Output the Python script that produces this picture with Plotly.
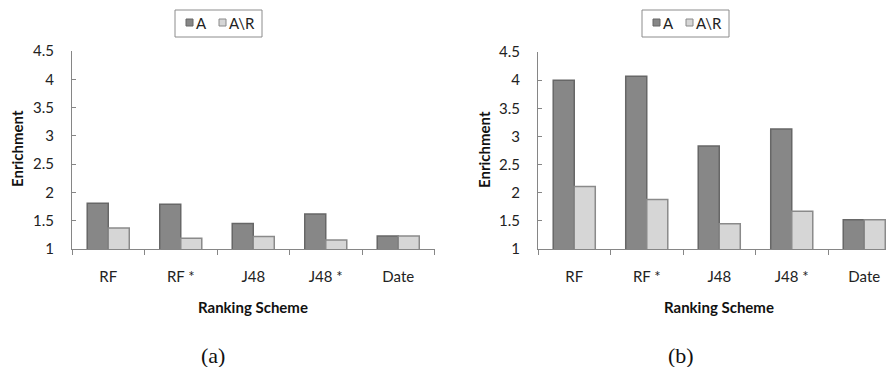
import plotly.graph_objects as go

categories = ["RF", "RF *", "J48", "J48 *", "Date"]
a_left = [1.81, 1.79, 1.45, 1.62, 1.23]
ar_left = [1.37, 1.19, 1.22, 1.16, 1.23]
a_right = [4.00, 4.07, 2.83, 3.13, 1.52]
ar_right = [2.11, 1.88, 1.45, 1.67, 1.52]
y_ticks = [1, 1.5, 2, 2.5, 3, 3.5, 4, 4.5]
y_tick_labels = ["1", "1.5", "2", "2.5", "3", "3.5", "4", "4.5"]
series_names = ["A", "A\\R"]

# The page body has an 8px margin, so the figure is sized to fit the window exactly
OFF = 8
W, H = 894 - OFF, 367 - OFF
FONT = "Lato"
COL_A = "#878787"
COL_A_LINE = "#676767"
COL_AR = "#d6d6d6"
COL_AR_LINE = "#8a8a8a"
AXIS_COL = "#868686"

fig = go.Figure()

def add_pair(a, ar, xa, ya):
    fig.add_trace(go.Bar(x=categories, y=a, name=series_names[0], xaxis=xa, yaxis=ya,
                         marker=dict(color=COL_A, line=dict(color=COL_A_LINE, width=1.5)),
                         showlegend=False))
    fig.add_trace(go.Bar(x=categories, y=ar, name=series_names[1], xaxis=xa, yaxis=ya,
                         marker=dict(color=COL_AR, line=dict(color=COL_AR_LINE, width=1.5)),
                         showlegend=False))

add_pair(a_left, ar_left, "x", "y")
add_pair(a_right, ar_right, "x2", "y2")

def px_x(p):
    return (p - OFF) / W

def px_y(p):
    return 1 - (p - OFF) / H

cat_w = 72.5
xaxis_common = dict(type="category", tickson="boundaries", ticks="outside", ticklen=5,
                    tickcolor=AXIS_COL, showline=True, linecolor=AXIS_COL, linewidth=1,
                    showgrid=False, zeroline=False, automargin=False,
                    tickfont=dict(family=FONT, size=15, color="#222"),
                    ticklabelstandoff=14)
yaxis_common = dict(range=[1, 4.5], tickvals=y_ticks, ticktext=y_tick_labels,
                    ticks="inside", ticklen=4, tickcolor=AXIS_COL,
                    showline=True, linecolor=AXIS_COL, linewidth=1, showgrid=False, zeroline=False,
                    automargin=False,
                    tickfont=dict(family=FONT, size=15, color="#222"),
                    ticklabelstandoff=14)

left_x0 = 72
right_x0 = 538
right_end = (894 - right_x0) / cat_w - 0.5

shapes = []
annotations = []

def add_legend(x0, y0):
    shapes.append(dict(type="rect", xref="paper", yref="paper",
                       x0=px_x(x0), x1=px_x(x0 + 87), y0=px_y(y0), y1=px_y(y0 + 27),
                       line=dict(color="#8c8c8c", width=1), fillcolor="white"))
    items = [(x0 + 11, series_names[0], COL_A, COL_A_LINE),
             (x0 + 44, series_names[1], COL_AR, COL_AR_LINE)]
    for sx, name, fc, lc in items:
        shapes.append(dict(type="rect", xref="paper", yref="paper",
                           x0=px_x(sx), x1=px_x(sx + 7), y0=px_y(y0 + 9), y1=px_y(y0 + 16),
                           line=dict(color=lc, width=1), fillcolor=fc))
        annotations.append(dict(text=name, x=px_x(sx + 8), y=px_y(y0 + 13), xref="paper", yref="paper",
                                showarrow=False, xanchor="left", yanchor="middle",
                                font=dict(family=FONT, size=15, color="#222")))

add_legend(175, 10)
add_legend(642, 10)

def add_titles(xc_x, xc_y, yt_x, yt_y, cap_x, cap):
    annotations.append(dict(text="<b>Ranking Scheme</b>", x=px_x(xc_x), y=px_y(xc_y), xref="paper",
                            yref="paper", showarrow=False, xanchor="center", yanchor="middle",
                            font=dict(family=FONT, size=15, color="#111")))
    annotations.append(dict(text="<b>Enrichment</b>", x=px_x(yt_x), y=px_y(yt_y), xref="paper",
                            yref="paper", showarrow=False, xanchor="center", yanchor="middle",
                            textangle=-90, font=dict(family=FONT, size=15, color="#111")))
    annotations.append(dict(text=cap, x=px_x(cap_x), y=px_y(355), xref="paper", yref="paper",
                            showarrow=False, xanchor="center", yanchor="middle",
                            font=dict(family="Liberation Serif", size=22, color="#111")))

add_titles(253, 307, 17, 149, 213, "(a)")
add_titles(719, 307, 484, 150, 681, "(b)")

fig.update_layout(
    width=W, height=H, margin=dict(l=0, r=0, t=0, b=0, autoexpand=False),
    paper_bgcolor="white", plot_bgcolor="white",
    barmode="group", bargap=0.42, bargroupgap=0,
    xaxis=dict(domain=[px_x(left_x0), px_x(left_x0 + 5 * cat_w)], range=[-0.5, 4.5], anchor="y",
               **xaxis_common),
    yaxis=dict(domain=[px_y(249), px_y(51)], anchor="x", **yaxis_common),
    xaxis2=dict(domain=[px_x(right_x0), 1.0], range=[-0.5, right_end], anchor="y2",
                **xaxis_common),
    yaxis2=dict(domain=[px_y(249), px_y(52)], anchor="x2", **yaxis_common),
    shapes=shapes,
    annotations=annotations,
    showlegend=False,
)

fig.write_html("out.html")
